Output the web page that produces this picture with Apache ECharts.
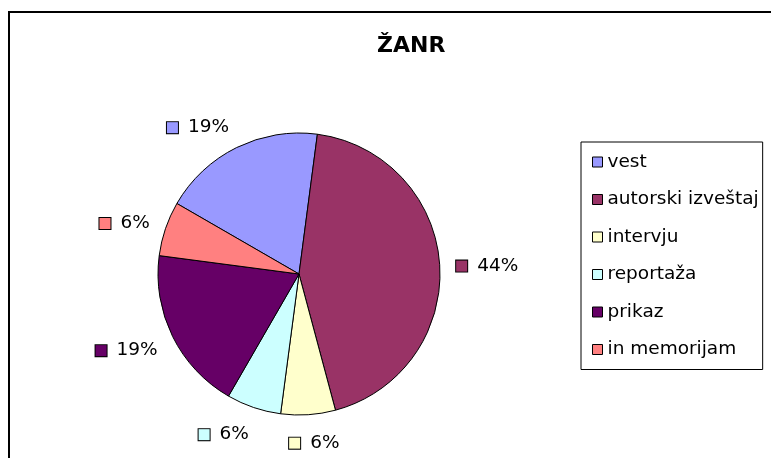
<!DOCTYPE html>
<html>
<head>
<meta charset="utf-8">
<script src="https://cdn.jsdelivr.net/npm/echarts@6/dist/echarts.min.js"></script>
<style>
  html, body { margin: 0; padding: 0; background: #fff; }
  #chart { width: 771px; height: 458px; }
</style>
</head>
<body>
<div id="chart"></div>
<script>
// zanr -- pie, counts (16 items total)
const categories = ['vest', 'autorski izveštaj', 'intervju', 'reportaža', 'prikaz', 'in memorijam'];
const values = [3, 7, 1, 1, 3, 1];
const colors = ['#9999FF', '#993366', '#FFFFCC', '#CCFFFF', '#660066', '#FF8080'];

const FONT = 'DejaVu Sans';
const CX = 299, CY = 274, R = 141;
const FIRST_SLICE = -60; // degrees, clockwise from 12 o'clock (Excel "angle of first slice" 300)
const LABEL_GAP = 16;
const LABEL_NUDGE_Y = 3;

var total = values.reduce(function (a, b) { return a + b; }, 0);

// rich styles for the little colour key in front of each percent
var rich = { t: { fontFamily: FONT, fontSize: 18.5, color: '#000', padding: [0, 0, 0, 10] } };
colors.forEach(function (c, i) {
  rich['i' + i] = { width: 11, height: 11, backgroundColor: c, borderColor: '#000', borderWidth: 1 };
});

var myChart = echarts.init(document.getElementById('chart'));
var option = {
  backgroundColor: '#fff',
  animation: false,
  title: {
    text: 'ŽANR',
    left: 377,
    top: 35,
    padding: 0,
    textStyle: { fontFamily: FONT, fontSize: 22, fontWeight: 'bold', color: '#000' }
  },
  legend: {
    orient: 'vertical',
    left: 581,
    top: 142,
    data: categories,
    icon: 'rect',
    itemWidth: 10,
    itemHeight: 10,
    itemGap: 17.5,
    padding: [10, 4, 10, 11],
    borderColor: '#000',
    borderWidth: 1,
    selectedMode: false,
    textStyle: { fontFamily: FONT, fontSize: 18.5, color: '#000', lineHeight: 20 },
    itemStyle: { borderColor: '#000', borderWidth: 1 }
  },
  graphic: [{
    // chart frame, cut off at the right and bottom like the original
    type: 'rect',
    shape: { x: 9, y: 12, width: 900, height: 600 },
    style: { fill: 'none', stroke: '#000', lineWidth: 2 },
    silent: true
  }],
  series: [{
    type: 'pie',
    center: [CX, CY],
    radius: R,
    startAngle: 90 - FIRST_SLICE,
    clockwise: true,
    percentPrecision: 0,
    avoidLabelOverlap: false,
    emphasis: { disabled: true },
    itemStyle: { borderColor: '#000', borderWidth: 1 },
    label: {
      show: true,
      position: 'outside',
      formatter: function (p) { return '{i' + p.dataIndex + '|}{t|' + p.percent + '%}'; },
      rich: rich
    },
    labelLine: { show: false },
    // excel style: anchor just outside the rim on the slice's middle angle,
    // box pushed off to the side it sits on
    labelLayout: function (p) {
      var before = 0;
      for (var k = 0; k < p.dataIndex; k++) before += values[k];
      var mid = FIRST_SLICE + (before + values[p.dataIndex] / 2) / total * 360;
      var rad = mid * Math.PI / 180;
      var dx = Math.sin(rad), dy = -Math.cos(rad);
      var w = p.labelRect.width, h = p.labelRect.height;
      var hx = Math.max(-1, Math.min(1, dx * 3)) * w / 2;
      var x = CX + dx * (R + LABEL_GAP) + hx;
      var y = CY + dy * (R + LABEL_GAP) + dy * h / 2 + LABEL_NUDGE_Y;
      return { x: x, y: y, align: 'center', verticalAlign: 'middle' };
    },
    data: categories.map(function (name, i) {
      return { name: name, value: values[i], itemStyle: { color: colors[i] } };
    })
  }]
};
myChart.setOption(option);
</script>
</body>
</html>
